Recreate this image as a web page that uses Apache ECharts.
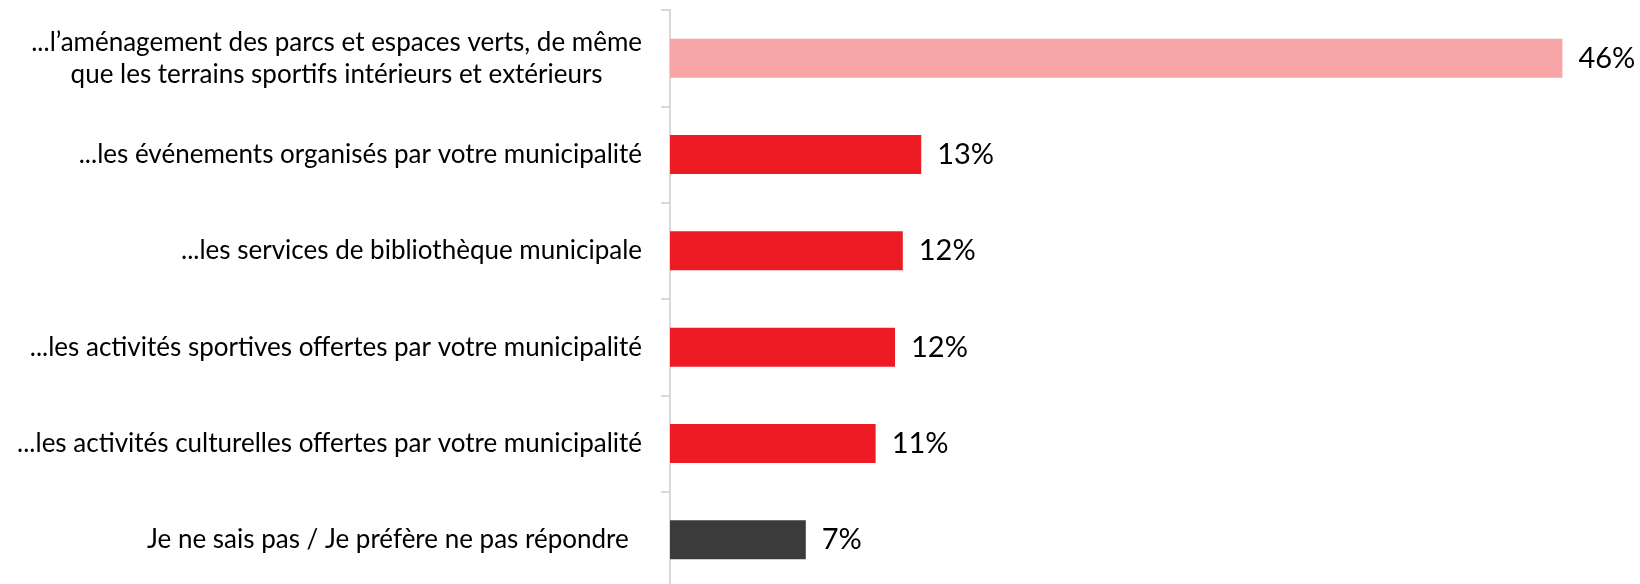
<!DOCTYPE html>
<html>
<head>
<meta charset="utf-8">
<script src="https://cdn.jsdelivr.net/npm/echarts@6/dist/echarts.min.js"></script>
<style>
  html, body { margin: 0; padding: 0; background: #fff; }
  #chart { width: 1640px; height: 584px; }
</style>
</head>
<body>
<div id="chart"></div>
<script>
// catégories, de haut en bas
const categories = [
  '...l\u2019aménagement des parcs et espaces verts, de même\nque les terrains sportifs intérieurs et extérieurs',
  '...les événements organisés par votre municipalité',
  '...les services de bibliothèque municipale',
  '...les activités sportives offertes par votre municipalité',
  '...les activités culturelles offertes par votre municipalité',
  'Je ne sais pas / Je préfère ne pas répondre\u00a0\u00a0'
];
const values = [46, 12.95, 12, 11.6, 10.6, 7];
const valueLabels = ['46%', '13%', '12%', '12%', '11%', '7%'];
const barColors = ['#f8a5a8', '#ed1c24', '#ed1c24', '#ed1c24', '#ed1c24', '#3b3b3b'];

const chart = echarts.init(document.getElementById('chart'));

const option = {
  animation: false,
  grid: {
    left: 670,
    right: 0,
    top: 10,
    height: 578,
    containLabel: false,
    outerBoundsMode: 'none'
  },
  xAxis: {
    type: 'value',
    min: 0,
    max: 50,
    show: false
  },
  yAxis: {
    type: 'category',
    inverse: true,
    data: categories,
    axisLine: { lineStyle: { color: '#d9d9d9', width: 2 } },
    axisTick: { show: true, length: 9, lineStyle: { color: '#d9d9d9', width: 2 } },
    axisLabel: {
      margin: 28,
      fontFamily: 'Lato',
      fontSize: 26,
      color: '#000',
      lineHeight: 32,
      formatter: function (v) {
        return v.split('\n').map(function (s) { return '{c|' + s + '}'; }).join('\n');
      },
      rich: {
        c: { align: 'center', fontFamily: 'Lato', fontSize: 26, color: '#000', lineHeight: 32 }
      }
    },
    splitLine: { show: false }
  },
  series: [{
    type: 'bar',
    barWidth: 39,
    data: values.map(function (v, i) {
      return { value: v, itemStyle: { color: barColors[i] } };
    }),
    label: {
      show: true,
      position: 'right',
      distance: 16,
      fontFamily: 'Lato',
      fontSize: 29,
      color: '#000',
      formatter: function (p) { return valueLabels[p.dataIndex]; }
    }
  }]
};

chart.setOption(option);
</script>
</body>
</html>
